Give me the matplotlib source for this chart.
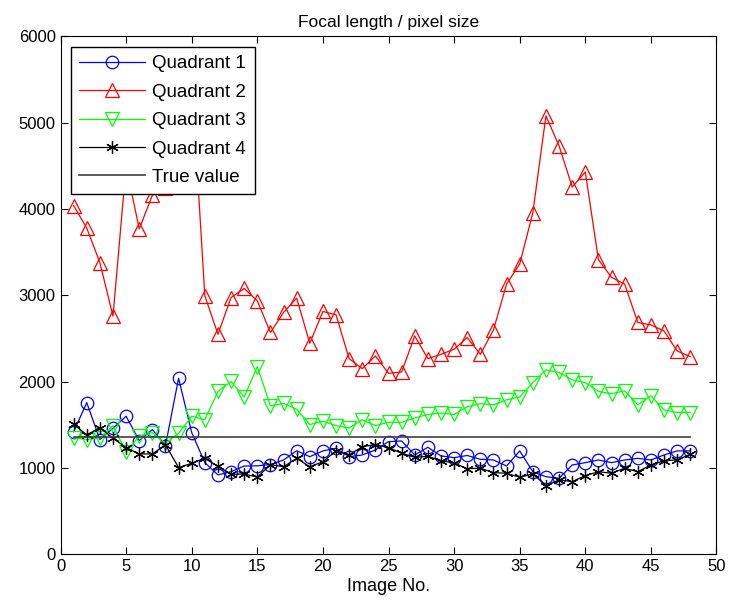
import matplotlib
matplotlib.use("Agg")
import matplotlib.pyplot as plt
import numpy as np

plt.rcParams['font.family'] = ['Liberation Sans', 'DejaVu Sans']

image_no = np.arange(1, 49)

quadrant1 = [1420, 1757, 1330, 1460, 1600, 1317, 1445, 1260, 2040, 1410,
             1062, 920, 957, 1023, 1025, 1040, 1093, 1200, 1131, 1198,
             1229, 1131, 1151, 1209, 1305, 1313, 1151, 1240, 1140, 1120,
             1145, 1101, 1093, 1023, 1198, 957, 899, 880, 1035, 1062,
             1093, 1062, 1093, 1112, 1093, 1151, 1198, 1198]

quadrant2 = [4040, 3780, 3380, 2760, 4500, 3770, 4160, 4240, 4900, 5500,
             2995, 2550, 2975, 3080, 2937, 2570, 2802, 2969, 2445, 2814,
             2775, 2267, 2151, 2298, 2097, 2112, 2530, 2267, 2317, 2376,
             2512, 2317, 2600, 3131, 3364, 3957, 5080, 4733, 4256, 4430,
             3414, 3209, 3131, 2686, 2658, 2588, 2356, 2290]

quadrant3 = [1350, 1329, 1350, 1490, 1185, 1370, 1410, 1290, 1403, 1600,
             1560, 1887, 2003, 1822, 2175, 1720, 1748, 1681, 1503, 1542,
             1491, 1464, 1560, 1491, 1530, 1530, 1580, 1620, 1638, 1620,
             1709, 1745, 1732, 1790, 1822, 1990, 2138, 2107, 2022, 1990,
             1887, 1860, 1895, 1732, 1837, 1674, 1643, 1643]

quadrant4 = [1510, 1383, 1468, 1345, 1236, 1163, 1163, 1268, 1005, 1055,
             1112, 1018, 927, 930, 895, 1038, 1015, 1112, 1015, 1073,
             1198, 1151, 1247, 1271, 1236, 1171, 1123, 1135, 1085, 1058,
             991, 998, 946, 939, 892, 932, 795, 862, 842, 912,
             957, 939, 998, 957, 1035, 1085, 1093, 1158]

true_value = 1360

fig = plt.figure(figsize=(7.3, 6.11), dpi=100)
ax = fig.add_axes([0.0829, 0.0928, 0.8986, 0.8475])

ax.plot(image_no, quadrant1, color='#0000ff', marker='o', ms=9, mfc='none',
        mew=0.9, lw=0.9, label='Quadrant 1')
ax.plot(image_no, quadrant2, color='#ff0000', marker='^', ms=10, mfc='none',
        mew=0.9, lw=0.9, label='Quadrant 2')
ax.plot(image_no, quadrant3, color='#00ff00', marker='v', ms=10, mfc='none',
        mew=0.9, lw=0.9, label='Quadrant 3')
ax.plot(image_no, quadrant4, color='black', marker=(6, 2, 0), ms=9,
        mew=0.9, lw=0.9, label='Quadrant 4')
ax.plot([image_no[0], image_no[-1]], [true_value, true_value], color='0.25',
        lw=1.2, label='True value')

ax.set_xlim(0, 50)
ax.set_ylim(0, 6000)
ax.set_xticks(np.arange(0, 51, 5))
ax.set_yticks(np.arange(0, 6001, 1000))
ax.tick_params(direction='in', top=True, right=True, length=5, labelsize=12)
for s in ax.spines.values():
    s.set_linewidth(0.8)

ax.set_title('Focal length / pixel size', fontsize=12.5, pad=7)
ax.set_xlabel('Image No.', fontsize=13, labelpad=3)

leg = ax.legend(loc='upper left', bbox_to_anchor=(0.0155, 0.98), borderaxespad=0,
                fontsize=13.5, handlelength=3.5, handletextpad=0.4,
                labelspacing=0.6, borderpad=0.45,
                fancybox=False, framealpha=1, edgecolor='black')
leg.get_frame().set_linewidth(1.0)

fig.savefig('out.png', dpi=100)
